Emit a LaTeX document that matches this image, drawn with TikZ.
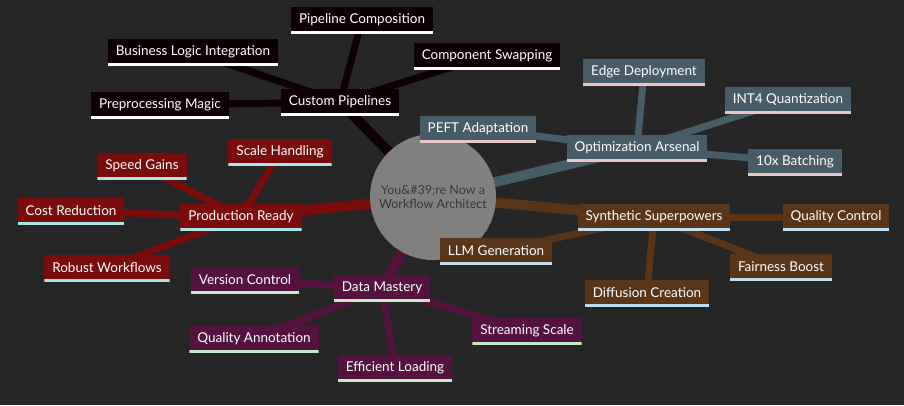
\documentclass[tikz,border=0pt]{standalone}
\usepackage{fontspec}
\setmainfont{Lato}
\pgfdeclarelayer{back}\pgfdeclarelayer{bg}\pgfsetlayers{back,bg,main}
\definecolor{bgc}{HTML}{262626}
\definecolor{cblk}{HTML}{0D0003}
\definecolor{cslt}{HTML}{475C66}
\definecolor{cbrn}{HTML}{5A3518}
\definecolor{cpur}{HTML}{55123F}
\definecolor{cred}{HTML}{7A0C0C}
\definecolor{ublk}{HTML}{FFFFFF}
\definecolor{uslt}{HTML}{E6C8C8}
\definecolor{ubrn}{HTML}{BFDDEF}
\definecolor{upur}{HTML}{C2E8C8}
\definecolor{ured}{HTML}{A8E6E8}
\tikzset{
 x=1pt,y=-1pt,
 box/.style 2 args={fill=#1,text=white,font=\fontsize{13.5}{15}\selectfont,inner xsep=8pt,minimum height=27pt,
   path picture={\fill[#2] (path picture bounding box.south west) rectangle ([yshift=3pt]path picture bounding box.south east);}},
 blk/.style={box={cblk}{ublk}}, slt/.style={box={cslt}{uslt}}, brn/.style={box={cbrn}{ubrn}},
 pur/.style={box={cpur}{upur}}, red/.style={box={cred}{ured}},
 trunk/.style={line width=10pt,draw=#1},
 twig/.style={line width=7pt,draw=#1},
}
\begin{document}
\begin{tikzpicture}
\begin{pgfonlayer}{back}
\fill[bgc] (0,0) rectangle (904,405);
\end{pgfonlayer}
\useasboundingbox (0,0) rectangle (904,405);
\node[circle,fill=black!50,minimum size=126pt,text=black!78,align=center,font=\fontsize{12.5}{14}\selectfont] (c) at (433,197) {You\&\#39;re Now a\\Workflow Architect};
% Custom pipelines
\node[blk] (cp) at (340,102) {Custom Pipelines};
\node[blk] (cp1) at (362,20) {Pipeline Composition};
\node[blk] (cp2) at (193,52) {Business Logic Integration};
\node[blk] (cp3) at (487,56) {Component Swapping};
\node[blk] (cp4) at (160,105) {Preprocessing Magic};
% Optimization
\node[slt] (oa) at (637,148) {Optimization Arsenal};
\node[slt] (oa1) at (478,129) {PEFT Adaptation};
\node[slt] (oa2) at (644,72) {Edge Deployment};
\node[slt] (oa3) at (788,100) {INT4 Quantization};
\node[slt] (oa4) at (795,162) {10x Batching};
% Synthetic
\node[brn] (ss) at (654,217) {Synthetic Superpowers};
\node[brn] (ss1) at (836,217) {Quality Control};
\node[brn] (ss2) at (496,251) {LLM Generation};
\node[brn] (ss3) at (781,267) {Fairness Boost};
\node[brn] (ss4) at (647,293) {Diffusion Creation};
% Data
\node[pur] (dm) at (382,288) {Data Mastery};
\node[pur] (dm1) at (245,280) {Version Control};
\node[pur] (dm2) at (254,339) {Quality Annotation};
\node[pur] (dm3) at (395,368) {Efficient Loading};
\node[pur] (dm4) at (527,331) {Streaming Scale};
% Production
\node[red] (pr) at (241,217) {Production Ready};
\node[red] (pr1) at (280,152) {Scale Handling};
\node[red] (pr2) at (142,166) {Speed Gains};
\node[red] (pr3) at (71,211) {Cost Reduction};
\node[red] (pr4) at (107,268) {Robust Workflows};
\begin{pgfonlayer}{bg}
\draw[trunk=cblk] (c.center) -- (cp.center);
\draw[trunk=cslt] (c.center) -- (oa.center);
\draw[trunk=cbrn] (c.center) -- (ss.center);
\draw[trunk=cpur] (c.center) -- (dm.center);
\draw[trunk=cred] (c.center) -- (pr.center);
\foreach \i in {1,...,4}{
 \draw[twig=cblk] (cp.center) -- (cp\i.center);
 \draw[twig=cslt] (oa.center) -- (oa\i.center);
 \draw[twig=cbrn] (ss.center) -- (ss\i.center);
 \draw[twig=cpur] (dm.center) -- (dm\i.center);
 \draw[twig=cred] (pr.center) -- (pr\i.center);
}
\end{pgfonlayer}
\end{tikzpicture}
\end{document}
